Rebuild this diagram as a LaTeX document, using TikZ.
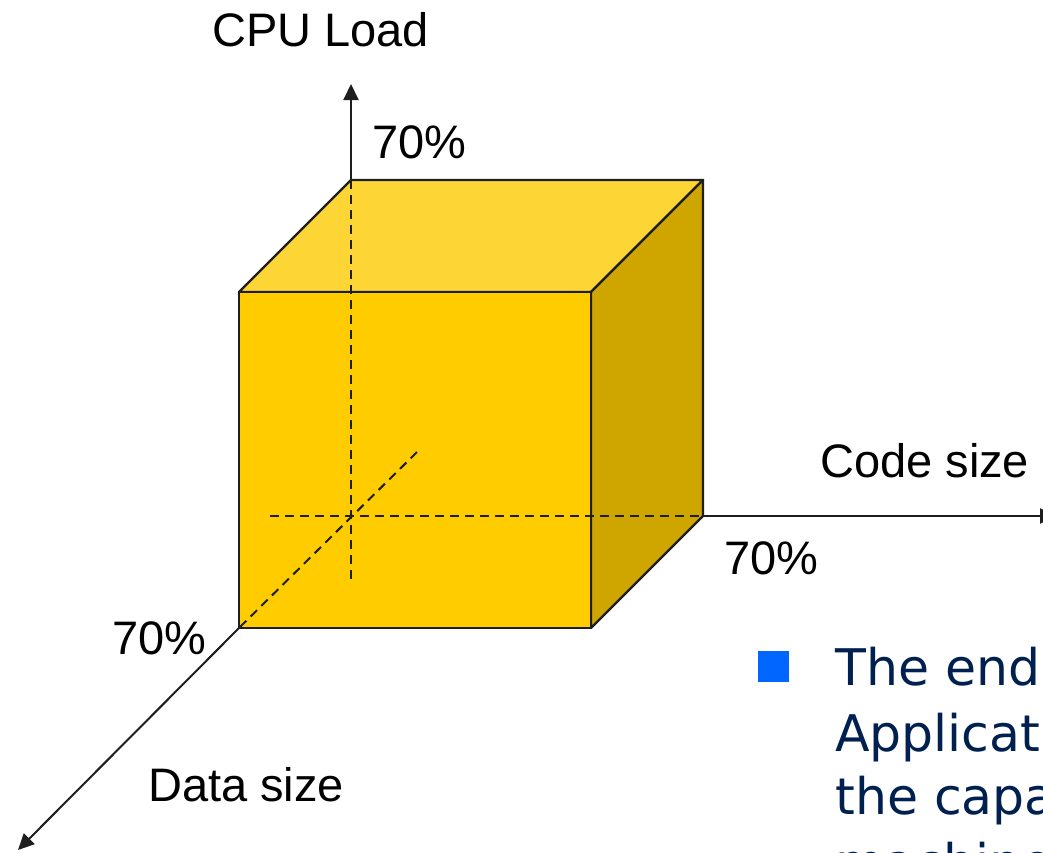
\documentclass[tikz,border=0pt]{standalone}
\usepackage{fontspec}
\setmainfont{Liberation Sans}
\newfontfamily\bodyfont{DejaVu Sans}
\usetikzlibrary{arrows.meta}
\definecolor{frontface}{HTML}{FFCC00}
\definecolor{topface}{HTML}{FDD535}
\definecolor{sideface}{HTML}{CFA500}
\definecolor{edgecol}{HTML}{1E1E1E}
\definecolor{navytext}{HTML}{002050}
\definecolor{bulletblue}{HTML}{0066FF}
\begin{document}
\begin{tikzpicture}[x=1pt,y=-1pt,
  face/.style={draw=edgecol,line width=2.4pt,line join=round},
  axis/.style={draw=edgecol,line width=2pt,-{Triangle[length=16pt,width=15pt]}},
  hidden/.style={draw=edgecol,line width=2pt,dash pattern=on 9pt off 6pt},
  lbl/.style={font=\fontsize{47}{56}\selectfont,anchor=base west,inner sep=0pt,text=black},
  bodytxt/.style={font=\bodyfont\fontsize{50.5}{60}\selectfont,anchor=base west,inner sep=0pt,text=navytext}]
\useasboundingbox (0,0) rectangle (1043,852);
\clip (0,0) rectangle (1043,852);
\fill[white] (0,0) rectangle (1043,852);

% cube corners
\coordinate (f1) at (239,292);
\coordinate (f2) at (591,292);
\coordinate (f3) at (591,628);
\coordinate (f4) at (239,628);
\coordinate (b1) at (351,180);
\coordinate (b2) at (703,180);
\coordinate (b3) at (703,516);

% axis ends
\coordinate (cpuEnd) at (351,84);
\coordinate (cpuLow) at (351,580);
\coordinate (codeStart) at (270,516);
\coordinate (codeEnd) at (1056,516);
\coordinate (dataTop) at (417,452);
\coordinate (dataEnd) at (18,850);

% faces
\path[face,fill=topface] (f1) -- (b1) -- (b2) -- (f2) -- cycle;
\path[face,fill=sideface] (f2) -- (b2) -- (b3) -- (f3) -- cycle;
\path[face,fill=frontface] (f1) -- (f2) -- (f3) -- (f4) -- cycle;

% hidden axes inside the cube
\path[hidden] (b1) -- (cpuLow);
\path[hidden] (codeStart) -- (b3);
\path[hidden] (dataTop) -- (f4);

% visible axes
\path[axis] (b1) -- (cpuEnd);
\path[axis] (b3) -- (codeEnd);
\path[axis] (f4) -- (dataEnd);

% axis labels
\node[lbl] (cpuLabel) at (212,46) {CPU Load};
\node[lbl] (cpuPct) at (372,158) {70\%};
\node[lbl] (codeLabel) at (820,477) {Code size};
\node[lbl] (codePct) at (724,574) {70\%};
\node[lbl] (dataPct) at (112,654) {70\%};
\node[lbl] (dataLabel) at (148,801) {Data size};

% bullet text
\fill[bulletblue] (758,651) rectangle (789,682) coordinate (bulletMark);
\node[bodytxt] (line1) at (835,685) {The end};
\node[bodytxt] (line2) at (835,751) {Applicat};
\node[bodytxt] (line3) at (835,814) {the capa};
\node[bodytxt] (line4) at (835,880) {machine};
\end{tikzpicture}
\end{document}
